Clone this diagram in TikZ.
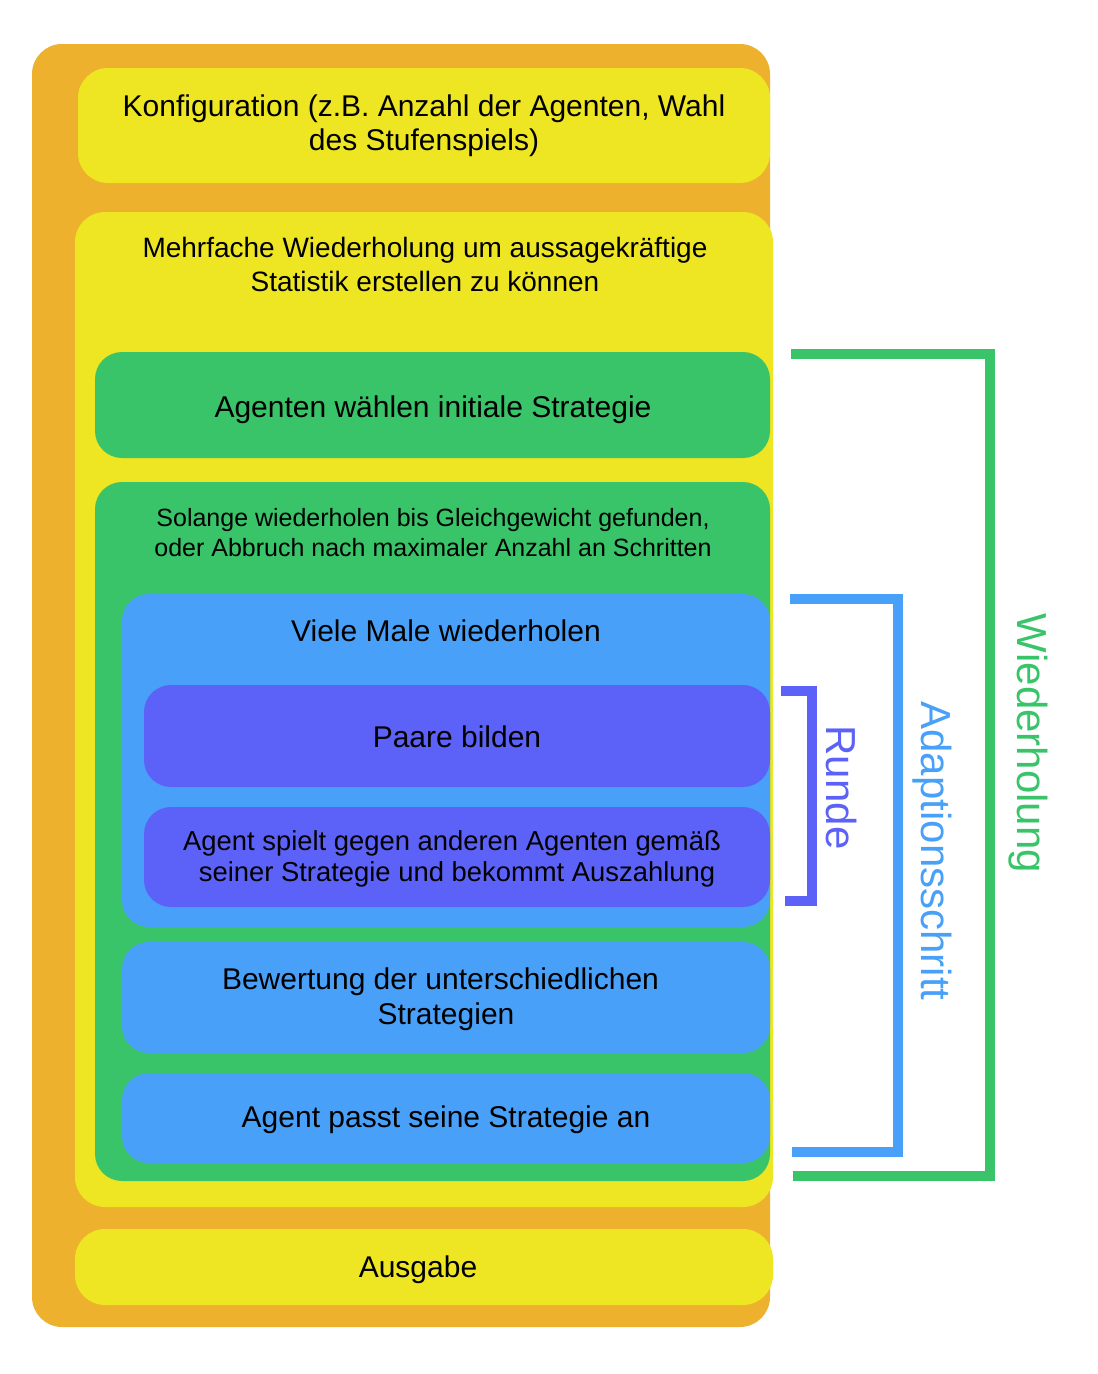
\documentclass[tikz,border=0pt]{standalone}
\usepackage{fontspec}
\setmainfont{Liberation Sans}
\definecolor{cOrange}{HTML}{EDB12E}
\definecolor{cYellow}{HTML}{EEE622}
\definecolor{cGreen}{HTML}{39C46A}
\definecolor{cBlue}{HTML}{48A0F8}
\definecolor{cPurple}{HTML}{5C62F7}
\tikzset{
  box/.style={rectangle, rounded corners=27pt, inner sep=0pt, draw=none},
  txt/.style={align=center, inner sep=0pt, text=black},
  fA/.style={font=\fontsize{30}{34}\selectfont},
  fB/.style={font=\fontsize{28}{34}\selectfont},
  fC/.style={font=\fontsize{25}{30}\selectfont},
  fD/.style={font=\fontsize{27.4}{31}\selectfont},
  fE/.style={font=\fontsize{30}{35}\selectfont},
  side/.style={font=\fontsize{42}{46}\selectfont, rotate=-90, anchor=base, inner sep=0pt},
  brk/.style={line width=10pt, line join=miter, line cap=butt}
}
\begin{document}
\begin{tikzpicture}[x=1pt,y=-1pt]
\useasboundingbox (0,0) rectangle (1098,1374);
% boxes
\node[box, rounded corners=30pt, fill=cOrange, minimum width=738pt, minimum height=1283pt] (outer) at (401,685.5) {};
\node[box, rounded corners=30pt, fill=cYellow, minimum width=692pt, minimum height=115pt] (konf) at (424,125.5) {};
\node[box, rounded corners=30pt, fill=cYellow, minimum width=698pt, minimum height=995pt] (mehr) at (424,709.5) {};
\node[box, fill=cGreen, minimum width=675pt, minimum height=106pt] (agw) at (432.5,405) {};
\node[box, fill=cGreen, minimum width=675pt, minimum height=699pt] (sol) at (432.5,831.5) {};
\node[box, fill=cBlue, minimum width=648pt, minimum height=333pt] (viele) at (446,760.5) {};
\node[box, fill=cPurple, minimum width=626pt, minimum height=102pt] (paare) at (457,736) {};
\node[box, fill=cPurple, minimum width=626pt, minimum height=100pt] (spielt) at (457,857) {};
\node[box, fill=cBlue, minimum width=648pt, minimum height=111pt] (bew) at (446,997.5) {};
\node[box, fill=cBlue, minimum width=648pt, minimum height=90pt] (passt) at (446,1118) {};
\node[box, rounded corners=30pt, fill=cYellow, minimum width=698pt, minimum height=76pt] (ausg) at (424,1267) {};
% texts
\node[txt, fA] (tkonf) at (424,126) {Konfiguration (z.B. Anzahl der Agenten, Wahl\\des Stufenspiels)};
\node[txt, fB] (tmehr) at (425,264) {Mehrfache Wiederholung um aussagekräftige\\Statistik erstellen zu können};
\node[txt, fA] (tagw) at (433,410) {Agenten wählen initiale Strategie};
\node[txt, fC] (tsol) at (433,533) {Solange wiederholen bis Gleichgewicht gefunden,\\oder Abbruch nach maximaler Anzahl an Schritten};
\node[txt, fA] (tviele) at (446,631) {Viele Male wiederholen};
\node[txt, fA] (tpaare) at (457,737) {Paare bilden};
\node[txt, fD] (tspielt) at (452,858.5) {Agent spielt gegen anderen Agenten gemäß\\\hspace*{10pt}seiner Strategie und bekommt Auszahlung};
\node[txt, fE] (tbew) at (446,999) {Bewertung der unterschiedlichen\hspace*{11pt}\\Strategien};
\node[txt, fA] (tpasst) at (446,1120) {Agent passt seine Strategie an};
\node[txt, fA] (tausg) at (418,1270) {Ausgabe};
% brackets
\coordinate (g1) at (791,354); \coordinate (g2) at (990,354);
\coordinate (g3) at (990,1176); \coordinate (g4) at (793,1176);
\draw[brk, cGreen] (g1) -- (g2) -- (g3) -- (g4);
\coordinate (b1) at (790,599); \coordinate (b2) at (898,599);
\coordinate (b3) at (898,1152); \coordinate (b4) at (792,1152);
\draw[brk, cBlue] (b1) -- (b2) -- (b3) -- (b4);
\coordinate (p1) at (781,691); \coordinate (p2) at (812,691);
\coordinate (p3) at (812,901); \coordinate (p4) at (785,901);
\draw[brk, cPurple] (p1) -- (p2) -- (p3) -- (p4);
% side labels
\node[side, text=cGreen] (lwied) at (1017,743.5) {Wiederholung};
\node[side, text=cBlue] (ladapt) at (921.7,851) {Adaptionsschritt};
\node[side, text=cPurple] (lrunde) at (826.7,787.5) {Runde};
\end{tikzpicture}
\end{document}
